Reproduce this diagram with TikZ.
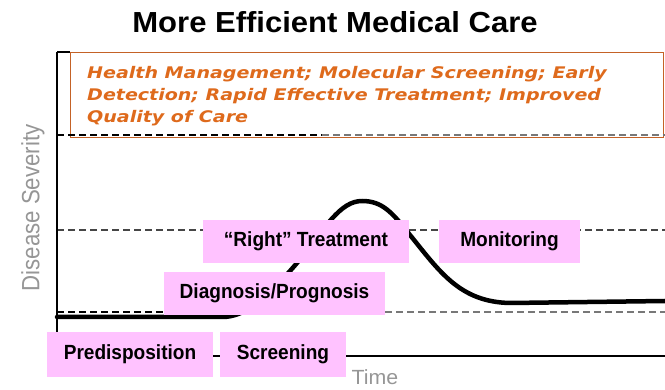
\documentclass[tikz,border=0pt]{standalone}
\usepackage{fontspec}
\setmainfont{Liberation Sans}
\newfontfamily\orangefont{DejaVu Sans}[FakeStretch=1.19]
\newfontfamily\titlefont{Liberation Sans}[FakeStretch=1.07]
\newfontfamily\boxfont{Liberation Sans}[FakeStretch=0.93]
\newfontfamily\sevfont{Liberation Sans}[FakeStretch=0.89]
\newfontfamily\timefont{Liberation Sans}[FakeStretch=1.04]
\definecolor{boxpink}{RGB}{255,194,255}
\definecolor{orangetxt}{RGB}{222,106,28}
\definecolor{orangeline}{RGB}{196,98,38}
\definecolor{axisgray}{RGB}{150,150,150}
\definecolor{dashgray}{RGB}{120,120,120}
\definecolor{dashdark}{RGB}{70,70,70}
\begin{document}
\begin{tikzpicture}[x=1pt,y=-1pt,
  pinkbox/.style={fill=boxpink, inner sep=0, text=black, font=\boxfont\fontsize{20.5}{22}\selectfont\bfseries},
  dashline/.style={dash pattern=on 7pt off 4pt, line width=1.6pt},
  orangetext/.style={anchor=base west, inner sep=0, text=orangetxt, font=\orangefont\fontsize{16}{20}\selectfont\bfseries\itshape},
  axislabel/.style={text=axisgray, inner sep=0}]
\useasboundingbox (0,0) rectangle (665,390);

% title
\node[anchor=base, inner sep=0, font=\titlefont\fontsize{29}{32}\selectfont\bfseries] (title) at (335,32.3) {More Efficient Medical Care};

% orange box
\node[draw=orangeline, line width=1pt, anchor=north west, inner sep=0, minimum width=593pt, minimum height=85pt] (obox) at (70,52) {};
\node[orangetext] (o1) at (87,78.5) {Health Management; Molecular Screening; Early};
\node[orangetext] (o2) at (87,100.5) {Detection; Rapid Effective Treatment; Improved};
\node[orangetext] (o3) at (87,122.5) {Quality of Care};

% dashed levels
\draw[dashline, black] (57,135) -- (322,135);
\draw[dashline, dashgray] (322,135) -- (665,135);
\draw[dashline, dashdark] (57,230) -- (665,230);
\draw[dashline, black] (57,312) -- (165,312);
\draw[dashline, dashgray] (385,312) -- (665,312);

% axes
\draw[line width=1.2pt] (57,52) -- (70,52);
\draw[line width=1.2pt] (57,52) -- (57,356) -- (665,356);

% severity curve
\draw[line width=4.5pt, line cap=round, line join=round] (57,317) -- (222,317)
  .. controls (245,317) and (265,300) .. (297,263)
  .. controls (325,228) and (340,201) .. (362,201)
  .. controls (382,201) and (392,212) .. (410,235)
  .. controls (440,272) and (460,302) .. (510,303) -- (665,301);

% pink boxes
\node[pinkbox, minimum width=206.6pt, minimum height=42.7pt] (rt) at (306,241.3) {“Right” Treatment};
\node[pinkbox, minimum width=141pt, minimum height=42.7pt] (mon) at (509.5,241.3) {Monitoring};
\node[pinkbox, minimum width=221pt, minimum height=43.3pt] (diag) at (274.5,293.3) {Diagnosis/Prognosis};
\node[pinkbox, minimum width=165.4pt, minimum height=44.4pt] (pred) at (130,354.5) {Predisposition};
\node[pinkbox, minimum width=126pt, minimum height=44.4pt] (scr) at (283,354.5) {Screening};

% axis labels
\node[axislabel, anchor=base, font=\timefont\fontsize{20.5}{22}\selectfont] (time) at (375,385) {Time};
\node[axislabel, rotate=90, font=\sevfont\fontsize{25}{26}\selectfont] (sev) at (33,208) {Disease Severity};
\end{tikzpicture}
\end{document}
